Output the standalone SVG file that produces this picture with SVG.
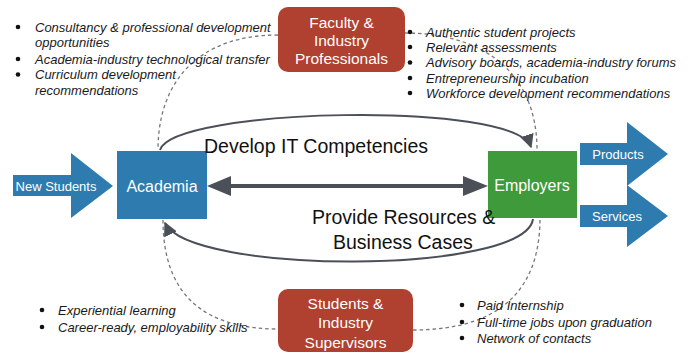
<svg xmlns="http://www.w3.org/2000/svg" width="691" height="356" viewBox="0 0 691 356">
<style>
.bul{font-family:"Liberation Sans",Arial,sans-serif;font-size:13px;font-style:italic;fill:#1a1a1a}
.dot{fill:#111}
.boxt{font-family:"Liberation Sans",Arial,sans-serif;font-size:15.5px;fill:#fff;text-anchor:middle}
.nodet{font-family:"Liberation Sans",Arial,sans-serif;font-size:16px;fill:#fff;text-anchor:middle}
.arrt{font-family:"Liberation Sans",Arial,sans-serif;font-size:13px;fill:#fff;text-anchor:middle}
.big{font-family:"Liberation Sans",Arial,sans-serif;font-size:19.5px;fill:#111}
.dash{fill:none;stroke:#777;stroke-width:1.3;stroke-dasharray:3.5 3}
.curve{fill:none;stroke:#4b4f58;stroke-width:2}
.red{fill:#b0402f}
.blue{fill:#2e7bb0}
</style>
<defs>
<marker id="ah" viewBox="0 0 10 10" refX="9" refY="5" markerWidth="7" markerHeight="7" orient="auto" markerUnits="strokeWidth">
<path d="M0,0 L10,5 L0,10 z" fill="#4b4f58"/>
</marker>
</defs>
<g id="connectors">
<path class="dash" d="M278,35 C200,35 158,80 158,150"/>
<path class="dash" d="M163,220 C163,300 210,329 278,329"/>
<path class="dash" d="M413,330 C500,330 540,290 540,218"/>
<path class="dash" d="M405,33 C480,33 537,70 537,150"/>
<path class="curve" d="M160,150 C172,108 515,100 531,147" marker-end="url(#ah)"/>
<path class="curve" d="M533,219 C525,275 190,275 165,223" marker-end="url(#ah)"/>
<line x1="228" y1="186" x2="466" y2="186" stroke="#4b4f58" stroke-width="4"/>
<polygon points="207,186 231,176 231,196" fill="#4b4f58"/>
<polygon points="488,186 463,176 463,196" fill="#4b4f58"/>
</g>
<g id="new-students">
<polygon class="blue" points="13,175 71,175 71,153 113,186 71,218 71,196 13,196"/>
<text class="arrt" x="56" y="190.5">New Students</text>
</g>
<g id="academia">
<rect class="blue" x="117" y="151" width="90" height="68"/>
<text class="nodet" x="162" y="191.5">Academia</text>
</g>
<g id="employers">
<rect x="488" y="151" width="89" height="67" fill="#3f9a3b"/>
<text class="nodet" x="532" y="191">Employers</text>
</g>
<g id="products">
<polygon class="blue" points="580,143 627,143 627,122 668,154 627,186 627,165 580,165"/>
<text class="arrt" x="618" y="158.5">Products</text>
</g>
<g id="services">
<polygon class="blue" points="580,205 627,205 627,185 668,216 627,247 627,227 580,227"/>
<text class="arrt" x="617" y="220.5">Services</text>
</g>
<g id="faculty">
<rect class="red" x="278" y="7" width="127" height="65" rx="10"/>
<text class="boxt" x="341.5" y="27.5">Faculty &amp;</text>
<text class="boxt" x="341.5" y="45.5">Industry</text>
<text class="boxt" x="341.5" y="63.5">Professionals</text>
</g>
<g id="students">
<rect class="red" x="278" y="289" width="135" height="63" rx="10"/>
<text class="boxt" x="345.5" y="308.5">Students &amp;</text>
<text class="boxt" x="345.5" y="328">Industry</text>
<text class="boxt" x="345.5" y="347.5">Supervisors</text>
</g>
<g id="text-labels">
<text class="big" x="204" y="153">Develop IT Competencies</text>
<text class="big" x="312" y="224">Provide Resources &amp;</text>
<text class="big" x="333" y="249">Business Cases</text>
</g>
<g id="faculty-left-list">
<circle class="dot" cx="18" cy="27" r="2.3"/>
<text class="bul" x="35" y="31.5">Consultancy &amp; professional development</text>
<text class="bul" x="35" y="47">opportunities</text>
<circle class="dot" cx="18" cy="59" r="2.3"/>
<text class="bul" x="35" y="63.5">Academia-industry technological transfer</text>
<circle class="dot" cx="18" cy="74.5" r="2.3"/>
<text class="bul" x="35" y="79">Curriculum development</text>
<text class="bul" x="35" y="94.5">recommendations</text>
</g>
<g id="faculty-right-list">
<circle class="dot" cx="410" cy="32" r="2.3"/>
<text class="bul" x="426" y="36.5">Authentic student projects</text>
<circle class="dot" cx="410" cy="47" r="2.3"/>
<text class="bul" x="426" y="51.5">Relevant assessments</text>
<circle class="dot" cx="410" cy="62.5" r="2.3"/>
<text class="bul" x="426" y="67">Advisory boards, academia-industry forums</text>
<circle class="dot" cx="410" cy="78" r="2.3"/>
<text class="bul" x="426" y="82.5">Entrepreneurship incubation</text>
<circle class="dot" cx="410" cy="93" r="2.3"/>
<text class="bul" x="426" y="97.5">Workforce development recommendations</text>
</g>
<g id="students-left-list">
<circle class="dot" cx="42" cy="310" r="2.3"/>
<text class="bul" x="58" y="314.5">Experiential learning</text>
<circle class="dot" cx="42" cy="327" r="2.3"/>
<text class="bul" x="58" y="331.5">Career-ready, employability skills</text>
</g>
<g id="students-right-list">
<circle class="dot" cx="462" cy="305" r="2.3"/>
<text class="bul" x="477" y="309.5">Paid Internship</text>
<circle class="dot" cx="462" cy="322" r="2.3"/>
<text class="bul" x="477" y="326.5">Full-time jobs upon graduation</text>
<circle class="dot" cx="462" cy="338" r="2.3"/>
<text class="bul" x="477" y="342.5">Network of contacts</text>
</g>
</svg>
